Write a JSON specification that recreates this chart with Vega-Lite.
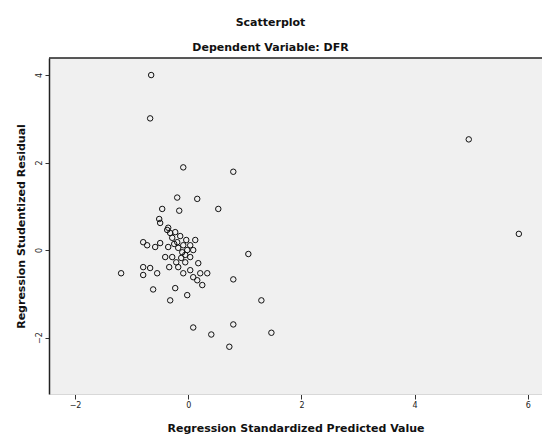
{
  "$schema": "https://vega.github.io/schema/vega-lite/v6.json",
  "width": 493,
  "height": 336,
  "autosize": {"type": "none"},
  "padding": {"left": 49, "top": 58, "right": 0, "bottom": 42},
  "background": "white",
  "config": {
    "view": {"stroke": null, "fill": "#f0f0f0"},
    "font": "DejaVu Sans"
  },
  "title": {
    "text": "Scatterplot",
    "subtitle": "Dependent Variable: DFR",
    "fontSize": 11,
    "fontWeight": "bold",
    "subtitleFontSize": 11,
    "subtitleFontWeight": "bold",
    "subtitleColor": "#111",
    "color": "#111",
    "subtitlePadding": 14,
    "offset": 4,
    "dx": -25,
    "anchor": "middle",
    "font": "DejaVu Sans",
    "subtitleFont": "DejaVu Sans"
  },
  "data": {
    "values": [
      {"x": -0.655, "y": 4.0}, {"x": -0.673, "y": 3.01}, {"x": -0.088, "y": 1.89}, {"x": 0.796, "y": 1.79},
      {"x": 4.956, "y": 2.53}, {"x": 5.841, "y": 0.37}, {"x": -0.195, "y": 1.2}, {"x": 0.159, "y": 1.17},
      {"x": 0.531, "y": 0.94}, {"x": -0.46, "y": 0.94}, {"x": -0.159, "y": 0.9}, {"x": -0.513, "y": 0.71},
      {"x": -0.496, "y": 0.62}, {"x": -0.372, "y": 0.46}, {"x": -0.319, "y": 0.39}, {"x": -0.283, "y": 0.28},
      {"x": -0.195, "y": 0.18}, {"x": -0.796, "y": 0.18}, {"x": -0.726, "y": 0.11}, {"x": -0.584, "y": 0.07},
      {"x": -0.088, "y": 0.11}, {"x": 0.124, "y": 0.23}, {"x": -0.018, "y": 0.0}, {"x": -0.106, "y": -0.05},
      {"x": 0.035, "y": -0.16}, {"x": -0.407, "y": -0.16}, {"x": -0.283, "y": -0.16}, {"x": -0.053, "y": -0.28},
      {"x": 0.177, "y": -0.3}, {"x": 1.062, "y": -0.09}, {"x": -0.796, "y": -0.39}, {"x": -0.673, "y": -0.41},
      {"x": -0.336, "y": -0.39}, {"x": -1.186, "y": -0.53}, {"x": -0.796, "y": -0.57}, {"x": -0.549, "y": -0.53},
      {"x": -0.088, "y": -0.53}, {"x": 0.088, "y": -0.62}, {"x": 0.212, "y": -0.53}, {"x": 0.336, "y": -0.53},
      {"x": 0.159, "y": -0.69}, {"x": 0.248, "y": -0.8}, {"x": 0.796, "y": -0.67}, {"x": -0.62, "y": -0.9},
      {"x": -0.23, "y": -0.87}, {"x": -0.018, "y": -1.03}, {"x": -0.319, "y": -1.15}, {"x": 1.292, "y": -1.15},
      {"x": 0.088, "y": -1.77}, {"x": 0.796, "y": -1.7}, {"x": 0.407, "y": -1.93}, {"x": 1.469, "y": -1.89},
      {"x": 0.726, "y": -2.21},
      {"x": -0.354, "y": 0.51}, {"x": -0.23, "y": 0.41}, {"x": -0.142, "y": 0.32}, {"x": -0.248, "y": 0.14},
      {"x": -0.035, "y": 0.23}, {"x": 0.035, "y": 0.11}, {"x": -0.177, "y": 0.05}, {"x": -0.053, "y": -0.11},
      {"x": -0.212, "y": -0.28}, {"x": -0.496, "y": 0.16}, {"x": -0.354, "y": 0.07}, {"x": 0.088, "y": 0.0},
      {"x": -0.124, "y": -0.18}, {"x": -0.177, "y": -0.39}, {"x": 0.035, "y": -0.46}
    ]
  },
  "layer": [
    {
      "mark": {"type": "point", "shape": "circle", "filled": false, "stroke": "#111", "strokeWidth": 1, "size": 30, "opacity": 1},
      "encoding": {
        "x": {
          "field": "x", "type": "quantitative",
          "scale": {"domain": [-2.46, 6.25], "nice": false, "zero": false},
          "axis": {
            "title": "Regression Standardized Predicted Value",
            "titleFontSize": 11, "titleFontWeight": "bold", "titleColor": "#111", "titlePadding": 13,
            "values": [-2, 0, 2, 4, 6], "grid": false,
            "labelFontSize": 8, "labelColor": "#222", "tickColor": "#333", "tickSize": 5,
            "domainColor": "#d8d8d8", "labelPadding": 2
          }
        },
        "y": {
          "field": "y", "type": "quantitative",
          "scale": {"domain": [-3.29, 4.39], "nice": false, "zero": false},
          "axis": {
            "title": "Regression Studentized Residual",
            "titleFontSize": 11, "titleFontWeight": "bold", "titleColor": "#111", "titlePadding": 9,
            "values": [-2, 0, 2, 4], "grid": false,
            "labelFontSize": 8, "labelColor": "#222", "labelAngle": 270, "labelAlign": "center", "labelBaseline": "bottom",
            "tickColor": "#333", "tickSize": 4, "domainColor": "#222", "domainWidth": 1.5, "labelPadding": 2
          }
        }
      }
    },
    {
      "mark": {"type": "rule", "color": "#222", "strokeWidth": 1.5},
      "data": {"values": [{"y": 4.39}]},
      "encoding": {"y": {"field": "y", "type": "quantitative"}}
    }
  ]
}
